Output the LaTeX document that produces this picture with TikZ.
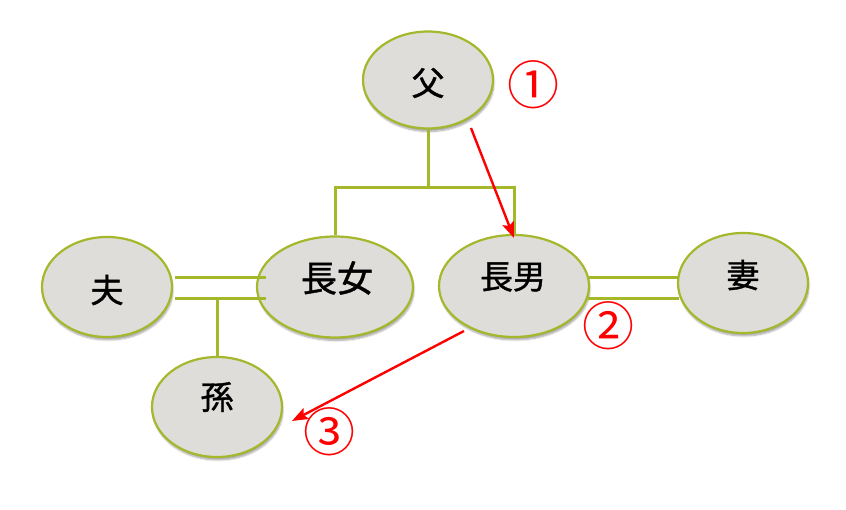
\documentclass[tikz,border=0pt]{standalone}
\usepackage{fontspec}
\newfontfamily\jp[FakeBold=1.2]{Noto Sans CJK JP}
\newfontfamily\jpnum{Noto Sans CJK JP}
\usetikzlibrary{shapes.geometric,arrows.meta,calc,shadows.blur}
\definecolor{olive}{RGB}{165,183,42}
\definecolor{pale}{RGB}{222,221,218}
\definecolor{redarrow}{RGB}{255,0,0}
\tikzset{
  person/.style={ellipse, draw=olive, line width=2.2pt, fill=pale, inner sep=0pt,
    blur shadow={shadow xshift=1pt, shadow yshift=-3pt, shadow blur steps=6, shadow opacity=35}},
  pname/.style={font=\jp\fontsize{33}{33}\selectfont, inner sep=0pt},
  famlink/.style={draw=olive, line width=3pt},
  redline/.style={draw=redarrow, line width=2.4pt, -{Stealth[length=16pt,width=12pt,inset=3pt]}},
  numlabel/.style={font=\jpnum\fontsize{52}{52}\selectfont, text=redarrow, inner sep=0pt}
}
\begin{document}
\begin{tikzpicture}[x=1pt,y=-1pt]
\useasboundingbox (0,0) rectangle (846,510);
% persons
\node[person, minimum width=130pt, minimum height=97pt] (fa) at (428,80) {};
\node[person, minimum width=130pt, minimum height=100pt] (otto) at (107,287) {};
\node[person, minimum width=156pt, minimum height=101pt] (chojo) at (335,287) {};
\node[person, minimum width=150pt, minimum height=102pt] (chonan) at (514,286) {};
\node[person, minimum width=130pt, minimum height=100pt] (tsuma) at (743,283) {};
\node[person, minimum width=130pt, minimum height=100pt] (mago) at (217,407) {};
% names
\node[pname] (tfa) at ($(fa)+(0,3)$) {父};
\node[pname] (totto) at ($(otto)+(0,3)$) {夫};
\node[pname, font=\jp\fontsize{36}{36}\selectfont] (tchojo) at ($(chojo)+(2,-9)$) {長女};
\node[pname] (tchonan) at ($(chonan)+(-1,-9)$) {長男};
\node[pname] (ttsuma) at ($(tsuma)+(0,-8)$) {妻};
\node[pname] (tmago) at ($(mago)+(0,-10)$) {孫};
% family links
\coordinate (bar) at (428,188);
\draw[famlink] (fa.south) -- (bar);
\draw[famlink] (chojo.north) |- (bar) -| (chonan.north);
\coordinate (m1a) at (175,278);
\coordinate (m1b) at (266,278);
\coordinate (m2a) at (175,299);
\coordinate (m2b) at (266,299);
\draw[famlink] (m1a) -- (m1b);
\draw[famlink] (m2a) -- (m2b);
\draw[famlink] (mago.north) -- (mago.north |- m2a);
\coordinate (w1a) at (588,278);
\coordinate (w1b) at (678,278);
\coordinate (w2a) at (588,299);
\coordinate (w2b) at (679,299);
\draw[famlink] (w1a) -- (w1b);
\draw[famlink] (w2a) -- (w2b);
% red arrows
\coordinate (r1s) at (471,128);
\coordinate (r1e) at (514,238);
\draw[redline] (r1s) -- (r1e);
\coordinate (r2s) at (464,331);
\coordinate (r2e) at (292,421);
\draw[redline] (r2s) -- (r2e);
% numbers
\node[numlabel] (n1) at (533,85) {①};
\node[numlabel] (n2) at (608,326) {②};
\node[numlabel] (n3) at (329,432) {③};
\end{tikzpicture}
\end{document}
